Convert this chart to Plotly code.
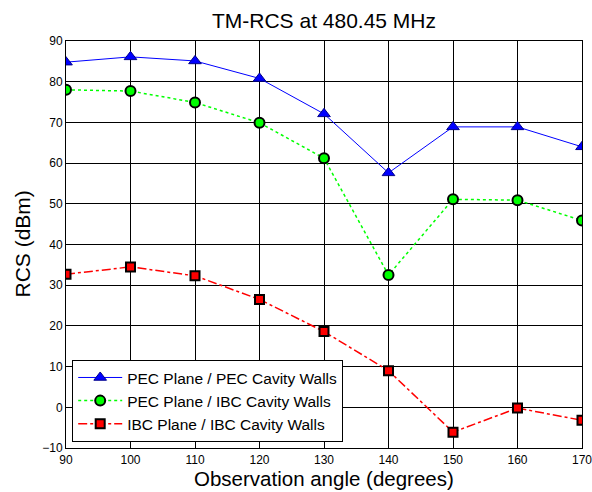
import plotly.graph_objects as go

angles = [90, 100, 110, 120, 130, 140, 150, 160, 170]
pec_pec = [84.8, 86.1, 85.1, 80.8, 72.1, 57.6, 68.9, 68.9, 64.0]
pec_ibc = [78.0, 77.7, 74.9, 69.9, 61.2, 32.5, 51.1, 50.9, 45.9]
ibc_ibc = [32.7, 34.5, 32.3, 26.5, 18.6, 9.0, -6.1, -0.2, -3.2]

xticks = [90, 100, 110, 120, 130, 140, 150, 160, 170]
yticks = [-10, 0, 10, 20, 30, 40, 50, 60, 70, 80, 90]

FONT = "Liberation Sans, Arial"
L, R, T, B = 66, 10, 41, 44
W, H = 592, 492
PW, PH = W - L - R, H - T - B

fig = go.Figure()
fig.add_trace(go.Scatter(
    x=angles, y=pec_pec, mode="lines+markers", name="PEC Plane / PEC Cavity Walls",
    line=dict(color="#0000ff", width=1, dash="solid"),
    marker=dict(symbol="triangle-up", size=11, color="#0000ff",
                line=dict(color="#00008b", width=1))))
fig.add_trace(go.Scatter(
    x=angles, y=pec_ibc, mode="lines+markers", name="PEC Plane / IBC Cavity Walls",
    line=dict(color="#00ff00", width=1.5, dash="dot"),
    marker=dict(symbol="circle", size=10, color="#00ff00",
                line=dict(color="#000000", width=2))))
fig.add_trace(go.Scatter(
    x=angles, y=ibc_ibc, mode="lines+markers", name="IBC Plane / IBC Cavity Walls",
    line=dict(color="#ff0000", width=1.5, dash="dashdot"),
    marker=dict(symbol="square", size=9, color="#ff0000",
                line=dict(color="#000000", width=2))))

axis_common = dict(showline=True, linecolor="black", linewidth=1, mirror="ticks",
                   showgrid=True, gridcolor="black", gridwidth=1,
                   ticks="inside", ticklen=4, tickcolor="black", zeroline=False,
                   automargin=False, ticklabeloverflow="allow",
                   tickfont=dict(family=FONT, size=12, color="black"))

fig.update_layout(
    width=W, height=H,
    margin=dict(l=L, r=R, t=T, b=B, autoexpand=False),
    paper_bgcolor="white", plot_bgcolor="white",
    title=dict(text="TM-RCS at 480.45 MHz", x=(L + W - R) / 2 / W, xanchor="center",
               y=1 - 21 / H, yanchor="middle",
               font=dict(family=FONT, size=21, color="black")),
    xaxis=dict(range=[90, 170], tickvals=xticks, ticklabelstandoff=1, **axis_common),
    yaxis=dict(range=[-10, 90], tickvals=yticks, **axis_common),
    legend=dict(x=0.012, y=0.015, xanchor="left", yanchor="bottom",
                bgcolor="white", bordercolor="black", borderwidth=1,
                font=dict(family=FONT, size=15.5, color="black"),
                itemwidth=44, tracegroupgap=0),
    annotations=[
        dict(text="Observation angle (degrees)", xref="paper", yref="paper",
             x=0.5, y=-(479 - (T + PH)) / PH, xanchor="center", yanchor="middle",
             showarrow=False, font=dict(family=FONT, size=20.5, color="black")),
        dict(text="RCS (dBm)", xref="paper", yref="paper", textangle=-90,
             x=(22 - L) / PW, y=0.5, xanchor="center", yanchor="middle",
             showarrow=False, font=dict(family=FONT, size=21, color="black")),
    ],
)

fig.write_html("out.html", config={"displayModeBar": False},
               post_script="document.body.style.margin='0';document.body.style.padding='0';")
